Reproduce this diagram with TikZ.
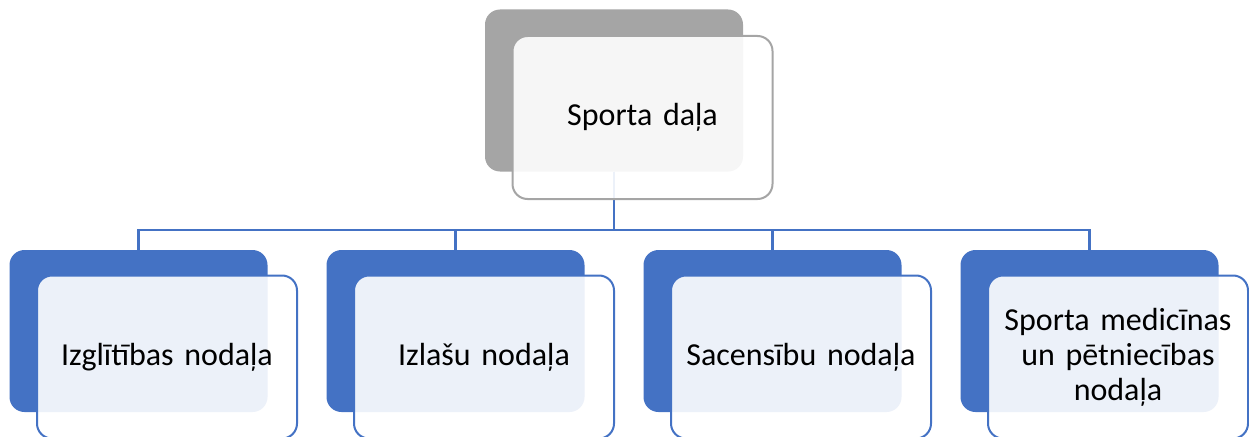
\documentclass[tikz,border=0pt]{standalone}
\usepackage{fontspec}
\setmainfont{Carlito}
\definecolor{accblue}{HTML}{4472C4}
\definecolor{accgray}{HTML}{A5A5A5}
\begin{document}
\begin{tikzpicture}[x=1pt,y=-1pt,
  backbox/.style={rectangle, rounded corners=15pt, inner sep=0pt, minimum width=258pt, minimum height=162pt, fill=#1},
  frontbox/.style={rectangle, rounded corners=15pt, inner sep=4pt, minimum width=260pt, minimum height=163pt, text width=250pt, align=center, fill=white, fill opacity=0.9, text opacity=1, draw=#1, line width=2pt, font=\fontsize{32}{35}\selectfont},
  conn/.style={draw=accblue, line width=2.4pt}]
\useasboundingbox (0,0) rectangle (1249,436);
% back boxes
\node[backbox=accgray] (b0) at (614,90.5) {};
\foreach \i in {1,...,4}{
  \node[backbox=accblue] (b\i) at ({138.5+317*(\i-1)},331) {};
}
% connectors
\foreach \i in {1,...,4}{
  \draw[conn] (b0.south) -- ++(0,58) -| (b\i.north);
}
% front boxes
\node[frontbox=accgray] (f0) at (642.5,117.5) {Sporta daļa};
\node[frontbox=accblue] (f1) at (167,357) {Izglītības nodaļa};
\node[frontbox=accblue] (f2) at (484,357) {Izlašu nodaļa};
\node[frontbox=accblue] (f3) at (801,357) {Sacensību nodaļa};
\node[frontbox=accblue] (f4) at (1118,357) {Sporta medicīnas\\un pētniecības\\nodaļa};
\end{tikzpicture}
\end{document}
